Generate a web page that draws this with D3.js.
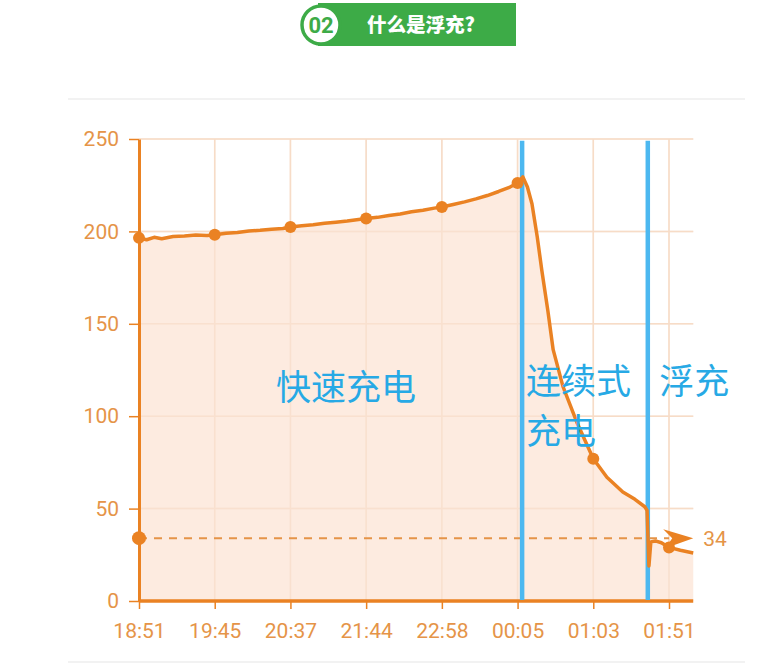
<!DOCTYPE html>
<html>
<head>
<meta charset="utf-8">
<script src="https://cdn.jsdelivr.net/npm/d3@7/dist/d3.min.js"></script>
<style>
  html, body { margin: 0; padding: 0; background: #ffffff; }
  svg { display: block; }
</style>
</head>
<body>
<svg id="chart" width="783" height="668"></svg>
<script>
// ---- data ----
const timeLabels = ["18:51", "19:45", "20:37", "21:44", "22:58", "00:05", "01:03", "01:51"];
const yTicks = [0, 50, 100, 150, 200, 250];
// position in tick-slot units (0 = 18:51 ... 7 = 01:51), value
const slotPos = [0, 0.1, 0.2, 0.3, 0.45, 0.6, 0.75, 0.9, 1.0, 1.15, 1.3, 1.45, 1.6, 1.75, 1.9, 2.0,
  2.15, 2.3, 2.45, 2.6, 2.75, 2.9, 3.0, 3.15, 3.3, 3.45, 3.6, 3.75, 3.9, 4.0,
  4.15, 4.3, 4.45, 4.6, 4.75, 4.9, 5.0, 5.07, 5.13, 5.19, 5.26, 5.32, 5.40, 5.47, 5.60, 5.79, 6.0,
  6.18, 6.39, 6.55, 6.68, 6.71, 6.735, 6.76, 6.82, 6.9, 7.0, 7.15, 7.32];
const chargeValues = [196.5, 195.5, 196.8, 196, 197.2, 197.5, 198, 197.8, 198.2, 199, 199.4, 200.2, 200.6, 201.2, 201.6, 202.4,
  203, 203.6, 204.4, 205, 205.6, 206.4, 207, 207.6, 208.6, 209.4, 210.6, 211.4, 212.6, 213.2,
  214.6, 216, 217.6, 219.4, 221.6, 224, 226.2, 229.5, 224, 215, 197, 179, 157, 136, 116, 96, 77,
  67, 59, 55, 51, 49, 19, 32, 32.5, 31.5, 29, 27.5, 26];
const markerSlots = [0, 1, 2, 3, 4, 5, 6, 7];
const floatLevel = 34;
const phaseBoundaries = [5.06, 6.72];
const phaseLabels = [
  { lines: ["快速充电"], slot: 1.81, value: 109 },
  { lines: ["连续式", "充电"], slot: 5.11, value: 112 },
  { lines: ["浮充"], slot: 6.87, value: 112 }
];
const headerNumber = "02";
const headerTitle = "什么是浮充?";

// ---- layout ----
const svg = d3.select("#chart");
const orange = "#ea8223";
const orangeText = "#e59448";
const gridColor = "#f7dcc7";
const fillColor = "#fde8da";
const blue = "#4cb8f0";
const blueText = "#27a9e5";
const green = "#3dab47";

const x = d3.scaleLinear().domain([0, 7]).range([139, 669]);
const xMax = 7.32;
const y = d3.scaleLinear().domain([0, 250]).range([601, 139]);

const data = slotPos.map((s, i) => ({ s, v: chargeValues[i] }));

// ---- header ----
const hdr = svg.append("g");
hdr.append("rect").attr("x", 318).attr("y", 3).attr("width", 198).attr("height", 43).attr("fill", green);
hdr.append("circle").attr("cx", 321).attr("cy", 25).attr("r", 19)
  .attr("fill", "#ffffff").attr("stroke", green).attr("stroke-width", 3.5);
hdr.append("text").attr("x", 321).attr("y", 33).attr("text-anchor", "middle")
  .attr("font-family", "Roboto, 'Noto Sans', sans-serif").attr("font-weight", "bold")
  .attr("font-size", 22).attr("fill", green).text(headerNumber);
hdr.append("text").attr("x", 421).attr("y", 32).attr("text-anchor", "middle")
  .attr("font-family", "'Noto Sans CJK SC', sans-serif").attr("font-weight", 900)
  .attr("font-size", 19.5).attr("fill", "#ffffff").text(headerTitle);

// frame lines
svg.append("line").attr("x1", 68).attr("x2", 745).attr("y1", 99).attr("y2", 99)
  .attr("stroke", "#eeeeee").attr("stroke-width", 1.5);
svg.append("line").attr("x1", 68).attr("x2", 745).attr("y1", 662).attr("y2", 662)
  .attr("stroke", "#eeeeee").attr("stroke-width", 1.5);

// ---- grid ----
function drawGrid(g) {
  g.selectAll("line.h").data(yTicks.filter(d => d > 0)).join("line").attr("class", "h")
    .attr("x1", x(0)).attr("x2", x(xMax)).attr("y1", d => y(d)).attr("y2", d => y(d))
    .attr("stroke", gridColor).attr("stroke-width", 1.5);
  g.selectAll("line.v").data(markerSlots.filter(d => d > 0)).join("line").attr("class", "v")
    .attr("x1", d => x(d)).attr("x2", d => x(d)).attr("y1", y(0)).attr("y2", y(250))
    .attr("stroke", gridColor).attr("stroke-width", 1.5);
}
drawGrid(svg.append("g"));

// ---- area ----
const area = d3.area().x(d => x(d.s)).y0(y(0)).y1(d => y(d.v)).curve(d3.curveLinear);
svg.append("path").datum(data).attr("d", area).attr("fill", fillColor).attr("fill-opacity", 0.85);
drawGrid(svg.append("g").attr("opacity", 0.5));

// ---- axes ----
const yAxis = d3.axisLeft(y).tickValues(yTicks).tickSize(10).tickPadding(10).tickSizeOuter(0);
const gy = svg.append("g").attr("transform", `translate(${x(0)},0)`).call(yAxis);
gy.select(".domain").attr("stroke", orange).attr("stroke-width", 3);
gy.selectAll(".tick line").attr("stroke", orange).attr("stroke-width", 1.5);
gy.selectAll(".tick text").attr("fill", orangeText).attr("font-size", 21)
  .attr("font-family", "Roboto, sans-serif");

const xAxis = d3.axisBottom(x).tickValues(markerSlots).tickFormat(i => timeLabels[i])
  .tickSize(8).tickPadding(14).tickSizeOuter(0);
const gx = svg.append("g").attr("transform", `translate(0,${y(0)})`).call(xAxis);
gx.select(".domain").attr("d", `M${x(0)},0H${x(xMax)}`).attr("stroke", orange).attr("stroke-width", 3.5);
gx.selectAll(".tick line").attr("stroke", orange).attr("stroke-width", 1.5);
gx.selectAll(".tick text").attr("fill", orangeText).attr("font-size", 21)
  .attr("font-family", "Roboto, sans-serif");

// ---- float reference line ----
svg.append("line").attr("x1", x(0)).attr("x2", x(7.0)).attr("y1", y(floatLevel)).attr("y2", y(floatLevel))
  .attr("stroke", orangeText).attr("stroke-width", 2).attr("stroke-dasharray", "8,7");
const ay = y(floatLevel), ax = x(xMax);
svg.append("path")
  .attr("d", `M${ax},${ay} L${ax - 30},${ay - 9} L${ax - 21},${ay} L${ax - 28},${ay + 10} Z`)
  .attr("fill", orange);
svg.append("circle").attr("cx", x(0)).attr("cy", y(floatLevel)).attr("r", 7).attr("fill", orange);
svg.append("text").attr("x", ax + 10).attr("y", ay + 8).attr("fill", orangeText)
  .attr("font-size", 21).attr("font-family", "Roboto, sans-serif").text(floatLevel);

// ---- phase boundaries ----
svg.selectAll("line.b").data(phaseBoundaries).join("line").attr("class", "b")
  .attr("x1", d => x(d)).attr("x2", d => x(d)).attr("y1", y(249)).attr("y2", y(0.5))
  .attr("stroke", blue).attr("stroke-width", 4.5);

// ---- line ----
const line = d3.line().x(d => x(d.s)).y(d => y(d.v)).curve(d3.curveLinear);
svg.append("path").datum(data).attr("d", line).attr("fill", "none")
  .attr("stroke", orange).attr("stroke-width", 3.5).attr("stroke-linejoin", "round");

// markers
svg.selectAll("circle.m").data(data.filter(d => markerSlots.includes(d.s))).join("circle").attr("class", "m")
  .attr("cx", d => x(d.s)).attr("cy", d => y(d.v)).attr("r", 6).attr("fill", orange);

// ---- phase labels ----
phaseLabels.forEach(p => {
  p.lines.forEach((l, i) => {
    svg.append("text").attr("x", x(p.slot)).attr("y", y(p.value) + i * 50)
      .attr("fill", blueText).attr("font-size", 35)
      .attr("font-family", "'Noto Sans CJK SC', sans-serif").text(l);
  });
});
</script>
</body>
</html>
